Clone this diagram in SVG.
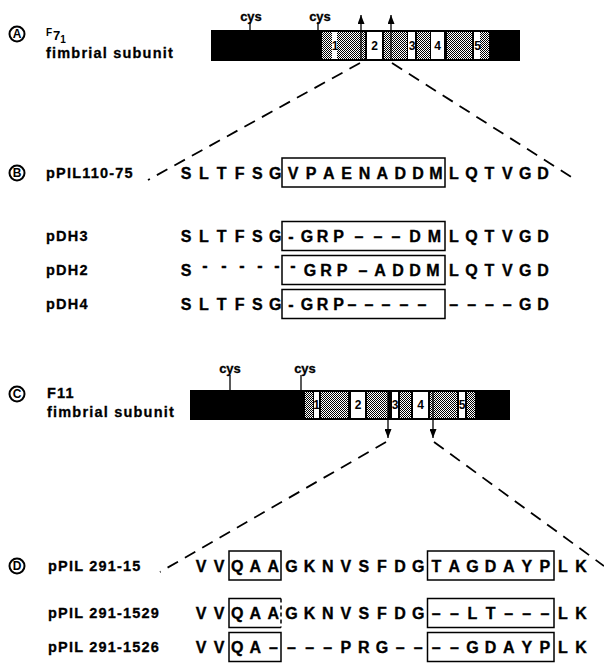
<svg xmlns="http://www.w3.org/2000/svg" width="604" height="664" viewBox="0 0 604 664">
<style>
text{font-family:"Liberation Sans",Arial,Helvetica,sans-serif;font-weight:bold;fill:#000}
.lbl{font-size:14.5px;letter-spacing:1.2px;stroke:#000;stroke-width:0.3}
.seq{font-size:16px;text-anchor:middle;stroke:#000;stroke-width:0.35}
.num{font-size:12px;text-anchor:middle}
.cys{font-size:13px;text-anchor:middle;stroke:#000;stroke-width:0.3}
.circ{font-size:12px;text-anchor:middle}
.ring{fill:none;stroke:#000;stroke-width:2}
.box{fill:none;stroke:#000;stroke-width:1.5}
.dbox{fill:none;stroke:#000;stroke-width:1.5;stroke-dasharray:4 3}
.dash{fill:none;stroke:#000;stroke-width:1.8;stroke-dasharray:12 8}
.arr{stroke:#000;stroke-width:1.3;fill:none}
.tick{stroke:#000;stroke-width:1.3}
.st{fill:url(#stip)}
.wh{fill:#fff}
</style>
<defs>
<pattern id="stip" width="2" height="2" patternUnits="userSpaceOnUse"><rect width="2" height="2" fill="#fff"/><rect width="1" height="1" fill="#000"/><rect x="1" y="1" width="1" height="1" fill="#000"/></pattern>
<marker id="ah" markerUnits="userSpaceOnUse" markerWidth="9" markerHeight="7" refX="9" refY="3.5" orient="auto"><path d="M0,0 L9,3.5 L0,7 z" fill="#000"/></marker>
</defs>

<!-- Panel A label -->
<g id="labelA">
<circle class="ring" cx="17" cy="34" r="7.5"/>
<text class="circ" x="17" y="38.3">A</text>
<text x="46" y="36" style="font-size:10px">F<tspan dx="1" dy="4" style="font-size:13px">7</tspan><tspan dy="3" style="font-size:10px">1</tspan></text>
<text class="lbl" x="46" y="58">fimbrial subunit</text>
</g>

<!-- Panel A bar -->
<g id="barA">
<rect x="211" y="30" width="309" height="31" fill="#000"/>
<rect class="st" x="322" y="32" width="10" height="27"/>
<rect class="wh" x="332" y="32" width="5" height="27"/>
<rect class="st" x="337" y="32" width="28" height="27"/>
<rect class="wh" x="367" y="32" width="15" height="27"/>
<rect class="st" x="384" y="32" width="23" height="27"/>
<rect class="wh" x="408" y="32" width="7" height="27"/>
<rect class="st" x="417" y="32" width="13" height="27"/>
<rect class="wh" x="431" y="32" width="13" height="27"/>
<rect class="st" x="447" y="32" width="25" height="27"/>
<rect class="wh" x="474" y="32" width="6" height="27"/>
<rect class="st" x="480" y="32" width="9" height="27"/>
<text class="num" x="335" y="50">1</text>
<text class="num" x="374.5" y="50">2</text>
<text class="num" x="412" y="50">3</text>
<text class="num" x="437.5" y="50">4</text>
<text class="num" x="477.5" y="50">5</text>
<text class="cys" x="251" y="21">cys</text>
<line class="tick" x1="250" y1="22" x2="250" y2="30"/>
<text class="cys" x="320" y="21">cys</text>
<line class="tick" x1="318" y1="22" x2="318" y2="30"/>
</g>

<!-- Panel C label -->
<g id="labelC">
<circle class="ring" cx="17" cy="394" r="7.5"/>
<text class="circ" x="17" y="398.3">C</text>
<text class="lbl" x="47" y="398">F11</text>
<text class="lbl" x="47" y="417">fimbrial subunit</text>
</g>

<!-- Panel C bar -->
<g id="barC">
<rect x="190" y="390" width="320" height="30" fill="#000"/>
<rect class="st" x="305" y="392" width="8" height="26"/>
<rect class="wh" x="314" y="392" width="5" height="26"/>
<rect class="st" x="321" y="392" width="27" height="26"/>
<rect class="wh" x="351" y="392" width="14" height="26"/>
<rect class="st" x="367" y="392" width="21" height="26"/>
<rect class="wh" x="392" y="392" width="6" height="26"/>
<rect class="st" x="400" y="392" width="11" height="26"/>
<rect class="wh" x="413" y="392" width="15" height="26"/>
<rect class="st" x="430" y="392" width="27" height="26"/>
<rect class="wh" x="459" y="392" width="6" height="26"/>
<rect class="st" x="467" y="392" width="8" height="26"/>
<text class="num" x="316.5" y="409">1</text>
<text class="num" x="358" y="409">2</text>
<text class="num" x="395" y="409">3</text>
<text class="num" x="420.5" y="409">4</text>
<text class="num" x="462" y="409">5</text>
<text class="cys" x="230" y="373">cys</text>
<line class="tick" x1="230" y1="375" x2="230" y2="390"/>
<text class="cys" x="305" y="373">cys</text>
<line class="tick" x1="301" y1="375" x2="301" y2="390"/>
</g>

<!-- Row B: pPIL110-75 -->
<g id="rowB">
<circle class="ring" cx="17" cy="173" r="7.5"/>
<text class="circ" x="17" y="177.3">B</text>
<text class="lbl" x="46" y="178">pPIL110-75</text>
<text class="seq" x="186 203.9 221.7 239.6 257.4 275.3" y="179">SLTFSG</text>
<rect class="box" x="282" y="158" width="163" height="29"/>
<text class="seq" x="293.1 311 328.8 346.7 364.5 382.4 400.2 418.1 435.9" y="179">VPAENADDM</text>
<text class="seq" x="453.8 471.6 489.5 507.3 525.2 543" y="179">LQTVGD</text>
</g>

<g id="rowDH3">
<text class="lbl" x="46" y="241">pDH3</text>
<text class="seq" x="186 203.9 221.7 239.6 257.4 275.3" y="242">SLTFSG</text>
<rect class="box" x="282" y="221.5" width="163" height="29"/>
<text class="seq" x="291 307 322.5 338.5 359 378 396 415 434.5" y="242">-GRP–––DM</text>
<text class="seq" x="453.8 471.6 489.5 507.3 525.2 543" y="242">LQTVGD</text>
</g>

<g id="rowDH2">
<text class="lbl" x="46" y="275">pDH2</text>
<text class="seq" x="186" y="276">S</text>
<text class="seq" x="205 224 242 260 277" y="271">-----</text>
<rect class="box" x="282" y="255.5" width="163" height="29"/>
<text class="seq" x="293" y="271">-</text>
<text class="seq" x="310 326 342 363 380 398 415 433" y="276">GRP–ADDM</text>
<text class="seq" x="453.8 471.6 489.5 507.3 525.2 543" y="276">LQTVGD</text>
</g>

<g id="rowDH4">
<text class="lbl" x="46" y="309">pDH4</text>
<text class="seq" x="186 203.9 221.7 239.6 257.4 275.3" y="310">SLTFSG</text>
<rect class="box" x="282" y="289.5" width="163" height="29"/>
<text class="seq" x="291 307 322.5 338.5 352 369 386 404 422" y="310">-GRP–––––</text>
<text class="seq" x="453.8 471.6 489.5 507.3 525.2 543" y="310">––––GD</text>
</g>

<!-- Row D -->
<g id="rowD">
<circle class="ring" cx="17" cy="566" r="7.5"/>
<text class="circ" x="17" y="570.3">D</text>
<text class="lbl" x="48" y="571">pPIL 291-15</text>
<text class="seq" x="201 219.1" y="572">VV</text>
<rect class="box" x="229" y="551" width="52" height="29"/>
<text class="seq" x="237.2 255.3 273.4" y="572">QAA</text>
<text class="seq" x="291.5 309.6 327.7 345.8 363.9 382 400.1 418.2" y="572">GKNVSFDG</text>
<rect class="box" x="427.5" y="551" width="126.5" height="29"/>
<text class="seq" x="436.3 454.4 472.5 490.6 508.7 526.8 544.9" y="572">TAGDAYP</text>
<text class="seq" x="563 581.1" y="572">LK</text>
</g>

<g id="row1529">
<text class="lbl" x="48" y="618">pPIL 291-1529</text>
<text class="seq" x="201 219.1" y="619">VV</text>
<path class="box" d="M281,598.5 H229 V627.5 H281"/>
<line class="dbox" x1="281" y1="598.5" x2="281" y2="627.5"/>
<text class="seq" x="237.2 255.3 273.4" y="619">QAA</text>
<text class="seq" x="291.5 309.6 327.7 345.8 363.9 382 400.1 418.2" y="619">GKNVSFDG</text>
<rect class="box" x="427.5" y="598.5" width="126.5" height="29"/>
<text class="seq" x="436.3 454.4 472.5 490.6 508.7 526.8 544.9" y="619">––LT–––</text>
<text class="seq" x="563 581.1" y="619">LK</text>
</g>

<g id="row1526">
<text class="lbl" x="48" y="652">pPIL 291-1526</text>
<text class="seq" x="201 219.1" y="653">VV</text>
<rect class="box" x="229" y="632.5" width="52" height="29"/>
<text class="seq" x="237.2 255.3 273.4" y="653">QA–</text>
<text class="seq" x="291.5 309.6 327.7 345.8 363.9 382 400.1 418.2" y="653">–––PRG––</text>
<rect class="box" x="427.5" y="632.5" width="126.5" height="29"/>
<text class="seq" x="436.3 454.4 472.5 490.6 508.7 526.8 544.9" y="653">––GDAYP</text>
<text class="seq" x="563 581.1" y="653">LK</text>
</g>

<!-- Connectors -->
<g id="connectors">
<line class="arr" x1="361" y1="61" x2="361" y2="15" marker-end="url(#ah)"/>
<line class="arr" x1="391" y1="61" x2="391" y2="15" marker-end="url(#ah)"/>
<line class="arr" x1="388" y1="392" x2="388" y2="438" marker-end="url(#ah)"/>
<line class="arr" x1="433" y1="392" x2="433" y2="438" marker-end="url(#ah)"/>
<line class="dash" x1="360" y1="63" x2="148" y2="180"/>
<line class="dash" x1="392" y1="63" x2="576" y2="180"/>
<line class="dash" x1="386" y1="442" x2="160" y2="572"/>
<line class="dash" x1="434" y1="442" x2="604" y2="566"/>
</g>
</svg>
